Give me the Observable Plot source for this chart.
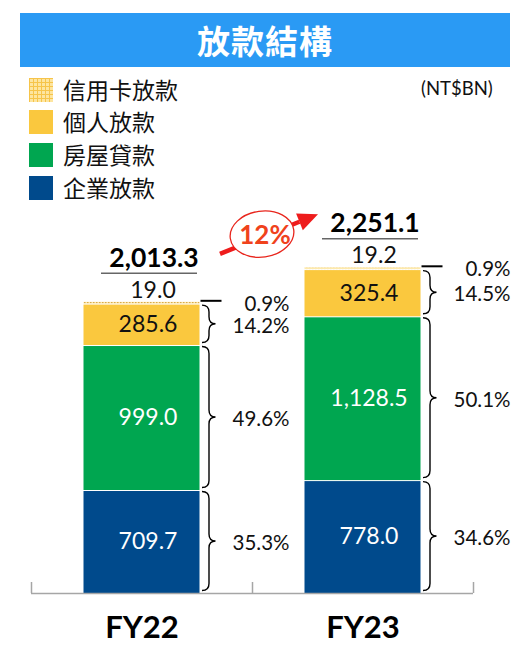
<!DOCTYPE html>
<html>
<head>
<meta charset="utf-8">
<script src="https://cdn.jsdelivr.net/npm/d3@7"></script>
<script src="https://cdn.jsdelivr.net/npm/@observablehq/plot@0.6"></script>
<style>
  html, body { margin: 0; padding: 0; background: #fff; overflow: hidden; }
  #wrap { position: relative; width: 530px; height: 652px; overflow: hidden; font-family: Lato, "Noto Sans CJK TC", sans-serif; }
  #head { position: relative; width: 530px; height: 200px; }
  #title { position: absolute; left: 20px; top: 13px; width: 490px; height: 54px; background: #2a9af4; color: #fff;
           font: bold 33px "Noto Sans CJK TC", sans-serif; text-align: center; line-height: 54px; letter-spacing: 1px; }
  .lg { position: absolute; left: 29px; height: 25px; display: flex; align-items: center; }
  .sw { width: 24px; height: 24px; margin-right: 10px; flex: none; }
  .lt { font: 23px "Noto Sans CJK TC", sans-serif; color: #111; line-height: 25px; white-space: nowrap; }
  .hatch { background-color: #fde5a0;
           background-image: linear-gradient(#f6c44a 1px, transparent 1px), linear-gradient(90deg, #f6c44a 1px, transparent 1px);
           background-size: 4px 4px; }
  #unit { position: absolute; left: 421px; top: 77px; font: 18.5px Lato, sans-serif; color: #111; }
  #chart svg { display: block; }
</style>
</head>
<body>
<div id="wrap">
  <div id="head">
    <div id="title"></div>
    <div id="legend"></div>
    <div id="unit"></div>
  </div>
  <div id="chart"></div>
</div>
<script>
// ---- data ----
const titleText = "放款結構";
const unitText = "(NT$BN)";
const years = ["FY22", "FY23"];
const series = ["企業放款", "房屋貸款", "個人放款", "信用卡放款"]; // bottom -> top
const corporate = [709.7, 778.0];
const mortgage = [999.0, 1128.5];
const personal = [285.6, 325.4];
const creditCard = [19.0, 19.2];
const totals = [2013.3, 2251.1];
const growthLabel = "12%";
const seriesColors = ["#004a8c", "#00a650", "#fac83e", "url(#ccPattern)"];
const legendColors = ["#004a8c", "#00a650", "#fac83e", "hatch"];

// ---- header ----
document.getElementById("title").textContent = titleText;
document.getElementById("unit").textContent = unitText;
const legend = document.getElementById("legend");
const legendTops = [77, 109, 142, 175];
series.slice().reverse().forEach((s, j) => {
  const k = series.length - 1 - j;
  const row = document.createElement("div");
  row.className = "lg";
  row.style.top = legendTops[j] + "px";
  const sw = document.createElement("div");
  sw.className = "sw" + (legendColors[k] === "hatch" ? " hatch" : "");
  if (legendColors[k] !== "hatch") sw.style.background = legendColors[k];
  const t = document.createElement("span");
  t.className = "lt";
  t.textContent = s;
  row.appendChild(sw); row.appendChild(t);
  legend.appendChild(row);
});

// ---- rows ----
const valuesBySeries = [corporate, mortgage, personal, creditCard];
const rows = [];
years.forEach((yr, i) => {
  let acc = 0;
  series.forEach((s, k) => {
    const v = valuesBySeries[k][i];
    rows.push({year: yr, i, series: s, k, value: v, y1: acc, y2: acc + v,
               pct: (v / totals[i] * 100).toFixed(1) + "%"});
    acc += v;
  });
});
const totalRows = years.map((yr, i) => ({year: yr, i, total: totals[i], cc: creditCard[i]}));
const fmt = d3.format(",.1f");
const mid = d => (d.y1 + d.y2) / 2;
const barInset = 52.5;

// custom annotations: braces, top marker, growth arrow
function annotations(index, scales) {
  const {x, y} = scales;
  const g = d3.create("svg:g");
  rows.forEach(d => {
    const right = x(d.i + 1) - barInset;
    if (d.k === 3) {
      g.append("line").attr("x1", right + 1).attr("x2", right + 22)
        .attr("y1", y(d.y2)).attr("y2", y(d.y2)).attr("stroke", "#000").attr("stroke-width", 2);
      return;
    }
    const ya = y(d.y2) + 1.5, yb = y(d.y1) - 2.5, ym = (ya + yb) / 2;
    const x0 = right + 2.5, xm = right + 9.5, xt = right + 16;
    const r = Math.min(7, (yb - ya) / 4);
    const p = `M${x0},${ya} Q${xm},${ya} ${xm},${ya + r} L${xm},${ym - r} Q${xm},${ym} ${xt},${ym} ` +
              `Q${xm},${ym} ${xm},${ym + r} L${xm},${yb - r} Q${xm},${yb} ${x0},${yb}`;
    g.append("path").attr("d", p).attr("fill", "none").attr("stroke", "#000").attr("stroke-width", 1.4);
  });
  // growth arrow
  const sx = x(1) - 32, sy = y(totals[0]) - 47;
  const ex = x(1) + 66, ey = y(totals[1]) - 52;
  const ang = Math.atan2(ey - sy, ex - sx);
  const hl = 20, hw = 9;
  const bx = ex - hl * Math.cos(ang), by = ey - hl * Math.sin(ang);
  g.append("line").attr("x1", sx).attr("y1", sy).attr("x2", bx).attr("y2", by)
    .attr("stroke", "#ee1c1c").attr("stroke-width", 4.5);
  const px = -Math.sin(ang), py = Math.cos(ang);
  g.append("path").attr("d", `M${ex},${ey} L${bx + px * hw},${by + py * hw} L${bx - px * hw},${by - py * hw} Z`)
    .attr("fill", "#ee1c1c");
  const cx = x(1) + 10, cy = (sy + ey) / 2;
  g.append("ellipse").attr("cx", cx).attr("cy", cy).attr("rx", 32).attr("ry", 23)
    .attr("transform", `rotate(-8 ${cx} ${cy})`)
    .attr("fill", "#fff").attr("stroke", "#e8251c").attr("stroke-width", 1.3);
  g.append("text").attr("x", cx + 3).attr("y", cy + 1).attr("text-anchor", "middle").attr("dy", "0.36em")
    .attr("font-size", 26).attr("font-weight", "bold").attr("fill", "#f0421c")
    .attr("font-family", "Lato, sans-serif").text(growthLabel);
  return g.node();
}

const plot = Plot.plot({
  width: 530, height: 452,
  marginLeft: 31, marginRight: 57, marginTop: 0, marginBottom: 59,
  x: {domain: [0, 2], axis: null},
  y: {domain: [0, 2708], axis: null},
  color: {domain: series, range: seriesColors},
  style: {fontFamily: "Lato, 'Noto Sans CJK TC', sans-serif", background: "white", overflow: "visible", color: "#111"},
  marks: [
    Plot.rectY(rows, {x1: d => d.i, x2: d => d.i + 1, y1: "y1", y2: "y2", fill: "series",
                      insetLeft: barInset, insetRight: barInset, insetTop: 1}),
    Plot.ruleY([0], {stroke: "#a6a6a6", strokeWidth: 1.5}),
    Plot.ruleX([0, 1, 2], {y1: 0, y2: 0, insetTop: -11, stroke: "#a6a6a6", strokeWidth: 1.5}),
    // in-bar labels
    Plot.text(rows.filter(d => d.k < 2), {x: d => d.i + 0.5, y: mid, text: d => fmt(d.value),
                      fill: "#fff", fontSize: 23, dx: 6}),
    Plot.text(rows.filter(d => d.k === 2), {x: d => d.i + 0.5, y: mid, text: d => fmt(d.value),
                      fill: "#111", fontSize: 23, dx: 6}),
    // credit card value above bar
    Plot.text(totalRows, {x: d => d.i + 0.5, y: "total", text: d => fmt(d.cc), fill: "#111",
                      fontSize: 23, dx: 11, dy: -11}),
    // underline + total
    Plot.ruleY(totalRows, {x1: d => d.i, x2: d => d.i + 1, y: "total", dy: -28,
                      insetLeft: 70, insetRight: 55, stroke: "#666", strokeWidth: 1.5}),
    Plot.text(totalRows, {x: d => d.i + 0.5, y: "total", text: d => fmt(d.total), fill: "#000",
                      fontSize: 26.5, fontWeight: "bold", dx: 12, dy: -43}),
    // percentages
    Plot.text(rows, {x: d => d.i + 1, y: mid, text: "pct", textAnchor: "end", fill: "#111",
                      fontSize: 20.5, dx: 37, dy: 1.5}),
    // year labels
    Plot.text(years, {x: (d, i) => i + 0.5, y: 0, text: d => d, fontSize: 31, fontWeight: "bold",
                      fill: "#000", dy: 35}),
    annotations
  ]
});

// pattern for credit-card segment
const ns = "http://www.w3.org/2000/svg";
const defs = document.createElementNS(ns, "defs");
defs.innerHTML = `<pattern id="ccPattern" patternUnits="userSpaceOnUse" width="3" height="3">
  <rect width="3" height="3" fill="#fde9ac"></rect>
  <rect x="0" y="0" width="1.5" height="1.2" fill="#d9aa4a"></rect>
</pattern>`;
plot.insertBefore(defs, plot.firstChild);
document.getElementById("chart").appendChild(plot);
</script>
</body>
</html>
